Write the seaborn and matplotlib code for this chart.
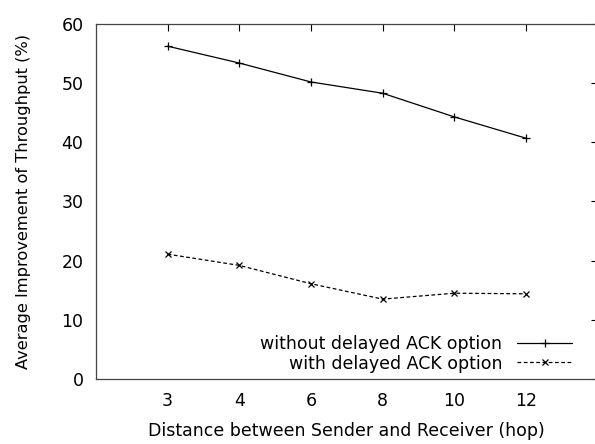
import matplotlib
matplotlib.use("Agg")
import matplotlib.pyplot as plt
import seaborn as sns
import numpy as np
import pandas as pd

hops = ["3", "4", "6", "8", "10", "12"]
without_delayed = [56.25, 53.4, 50.2, 48.3, 44.3, 40.7]
with_delayed = [21.1, 19.2, 16.1, 13.5, 14.5, 14.4]
labels = ["without delayed ACK option", "with delayed ACK option"]

sns.set_theme(style="white")
plt.rcParams['font.family'] = ['DejaVu Sans']
plt.rcParams['text.color'] = 'black'
plt.rcParams['axes.labelcolor'] = 'black'
plt.rcParams['xtick.color'] = 'black'
plt.rcParams['ytick.color'] = 'black'

pos = np.arange(len(hops))
df = pd.DataFrame({
    "pos": np.concatenate([pos, pos]),
    "val": without_delayed + with_delayed,
    "series": [labels[0]] * len(hops) + [labels[1]] * len(hops),
})

fig = plt.figure(figsize=(5.95, 4.44), dpi=100)
ax = fig.add_axes([96 / 595, (444 - 379) / 444, 501.6 / 595, 355 / 444])

sns.lineplot(data=df[df.series == labels[0]], x="pos", y="val", ax=ax,
             color="black", lw=0.9, marker="+", markersize=6, mew=0.9,
             markeredgecolor="black", label=labels[0])
sns.lineplot(data=df[df.series == labels[1]], x="pos", y="val", ax=ax,
             color="black", lw=0.9, marker="x", markersize=4.5, mew=0.9,
             markeredgecolor="black", linestyle=(0, (3, 2)), label=labels[1])

ax.set_xlim(-1, 6)
ax.set_ylim(0, 60)
ax.set_xticks(pos)
ax.set_xticklabels(hops)
ax.set_yticks(np.arange(0, 61, 10))
ax.tick_params(direction="in", length=5, width=0.8, color="black",
               labelcolor="black", top=True, right=True, labelsize=12.5, pad=9)
for s in ax.spines.values():
    s.set_color("#444444")
    s.set_linewidth(0.9)
ax.set_xlabel("Distance between Sender and Receiver (hop)", fontsize=12.5,
              labelpad=9, color="black")
ax.set_ylabel("Average Improvement of Throughput (%)", fontsize=11.7,
              labelpad=22, color="black")
ax.grid(False)

leg = ax.legend(loc="lower right", bbox_to_anchor=(0.974, -0.016), frameon=False,
                markerfirst=False, fontsize=12.5, handlelength=3.2,
                handletextpad=0.85, labelspacing=0.1, borderpad=0.2)
for t in leg.get_texts():
    t.set_ha("right")
    t.set_color("black")
leg._legend_box.align = "right"

fig.savefig("out.png", dpi=100)
